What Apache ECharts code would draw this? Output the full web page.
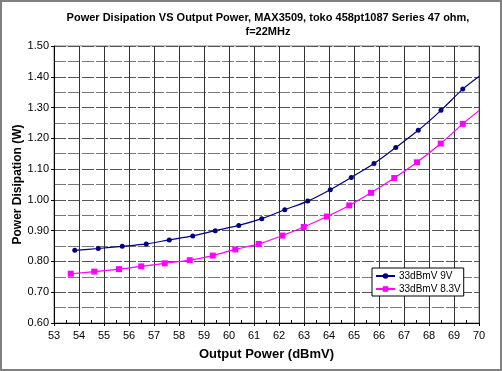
<!DOCTYPE html>
<html><head><meta charset="utf-8">
<script src="https://cdn.jsdelivr.net/npm/echarts@6/dist/echarts.min.js"></script>
<style>
html,body{margin:0;padding:0;background:#fff;}
#wrap{position:absolute;left:0;top:0;width:498px;height:367px;border:2px solid #808080;}
#c{width:498px;height:367px;}
</style></head>
<body><div id="wrap"><div id="c"></div></div>
<script>
var titleText = 'Power Disipation VS Output Power, MAX3509, toko 458pt1087 Series 47 ohm,\nf=22MHz';
var xName = 'Output Power (dBmV)';
var yName = 'Power Disipation (W)';
var seriesNames = ['33dBmV 9V', '33dBmV 8.3V'];

var x9V = [53.83, 54.77, 55.73, 56.69, 57.61, 58.55, 59.45, 60.39, 61.31, 62.23, 63.15, 64.05, 64.89, 65.80, 66.67, 67.57, 68.48, 69.35];
var y9V = [0.836, 0.842, 0.849, 0.857, 0.870, 0.883, 0.900, 0.917, 0.939, 0.968, 0.996, 1.033, 1.073, 1.118, 1.170, 1.226, 1.291, 1.360];
var end9V = [70, 1.401];

var x83V = [53.67, 54.61, 55.60, 56.49, 57.43, 58.43, 59.35, 60.25, 61.19, 62.13, 62.99, 63.92, 64.81, 65.68, 66.61, 67.52, 68.47, 69.35];
var y83V = [0.760, 0.767, 0.775, 0.784, 0.794, 0.804, 0.819, 0.839, 0.857, 0.884, 0.912, 0.946, 0.982, 1.023, 1.071, 1.122, 1.183, 1.247];
var end83V = [70, 1.290];

function build(xs, ys, end) {
  var d = xs.map(function (x, i) { return [x, ys[i]]; });
  d.push({ value: end, symbol: 'none' });
  return d;
}

var font = 'Liberation Sans, Arial, sans-serif';
var chart = echarts.init(document.getElementById('c'));
chart.setOption({
  animation: false,
  backgroundColor: '#fff',
  title: {
    text: titleText, left: 261, top: 4, textAlign: 'center',
    textStyle: { fontFamily: font, fontSize: 11, fontWeight: 'bold', color: '#000', lineHeight: 14 }
  },
  grid: { left: 52, right: 21, top: 44, bottom: 46, show: true, borderColor: '#808080', borderWidth: 1, outerBoundsMode: 'none', containLabel: false },
  legend: {
    orient: 'vertical', left: 370, top: 266,
    backgroundColor: '#fff', borderColor: '#000', borderWidth: 1,
    padding: [3, 3, 2, 3], itemGap: 3, itemWidth: 19, itemHeight: 7,
    textStyle: { fontFamily: font, fontSize: 10, color: '#000', padding: [0, 0, 0, -1] },
    data: seriesNames
  },
  xAxis: {
    type: 'value', min: 53, max: 70, interval: 1,
    name: xName, nameLocation: 'middle', nameGap: 25, nameMoveOverlap: false,
    nameTextStyle: { fontFamily: font, fontSize: 13, fontWeight: 'bold', color: '#000' },
    axisLine: { onZero: false, lineStyle: { color: '#000' } },
    axisTick: { show: true, length: 3, lineStyle: { color: '#000' } },
    minorTick: { show: true, splitNumber: 2, length: -3, lineStyle: { color: '#000' } },
    axisLabel: { fontFamily: font, fontSize: 11, color: '#000', margin: 7 },
    splitLine: { show: true, lineStyle: { color: '#333', width: 1 } }
  },
  yAxis: {
    type: 'value', min: 0.6, max: 1.5, interval: 0.1,
    name: yName, nameLocation: 'middle', nameGap: 30, nameMoveOverlap: false,
    nameTextStyle: { fontFamily: font, fontSize: 12, fontWeight: 'bold', color: '#000' },
    axisLine: { show: true, lineStyle: { color: '#000' } },
    axisTick: { show: true, length: 3, lineStyle: { color: '#000' } },
    minorTick: { show: false, splitNumber: 2 },
    minorSplitLine: { show: true, lineStyle: { color: '#777', width: 1, type: [12, 2] } },
    axisLabel: { fontFamily: font, fontSize: 11, color: '#000', margin: 5, formatter: function (v) { return v.toFixed(2); } },
    splitLine: { show: true, lineStyle: { color: '#555', width: 1, type: [12, 2] } }
  },
  series: [
    {
      name: seriesNames[0], type: 'line', smooth: 0.3,
      data: build(x9V, y9V, end9V),
      symbol: 'circle', symbolSize: 5,
      itemStyle: { color: '#000080' }, lineStyle: { color: '#000080', width: 1.2 }
    },
    {
      name: seriesNames[1], type: 'line', smooth: 0.3,
      data: build(x83V, y83V, end83V),
      symbol: 'rect', symbolSize: 6,
      itemStyle: { color: '#FF00FF' }, lineStyle: { color: '#FF00FF', width: 1.2 }
    }
  ]
});
</script></body></html>
